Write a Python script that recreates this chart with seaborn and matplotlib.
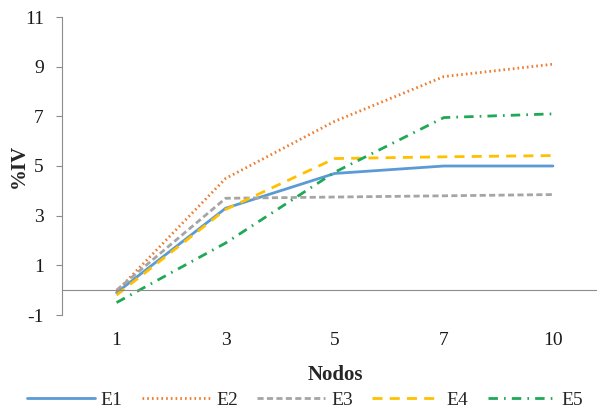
import numpy as np
import pandas as pd
import matplotlib
matplotlib.use("Agg")
import matplotlib.pyplot as plt
import seaborn as sns

# datos
nodos = ["1", "3", "5", "7", "10"]
e1 = [-0.1, 3.3, 4.7, 5.0, 5.0]
e2 = [-0.05, 4.5, 6.8, 8.6, 9.1]
e3 = [0.0, 3.7, 3.75, 3.8, 3.85]
e4 = [-0.2, 3.25, 5.3, 5.37, 5.42]
e5 = [-0.5, 1.9, 4.75, 6.95, 7.1]
series = ["E1", "E2", "E3", "E4", "E5"]

colores = {"E1": "#5b9bd5", "E2": "#ed7d31", "E3": "#a5a5a5",
           "E4": "#ffc000", "E5": "#20a856"}
trazos = {"E1": "", "E2": (0.6, 1.1), "E3": (2.2, 1.2),
          "E4": (3.6, 2.6), "E5": (3.4, 2.2, 0.6, 2.2)}

pos = np.arange(len(nodos))
df = pd.DataFrame({
    "pos": np.tile(pos, 5),
    "valor": e1 + e2 + e3 + e4 + e5,
    "serie": np.repeat(series, len(nodos)),
})

sns.set_style("white")
plt.rcParams["font.family"] = ["Liberation Serif", "DejaVu Serif"]
plt.rcParams["axes.unicode_minus"] = False

fig = plt.figure(figsize=(5.97, 4.12), dpi=100)
ax = fig.add_axes([62 / 597, 1 - 315 / 412, 545.5 / 597, 298 / 412])

sns.lineplot(data=df, x="pos", y="valor", hue="serie", style="serie",
             palette=colores, dashes=trazos, linewidth=2.0, ax=ax,
             legend=False)

ax.set_xlim(-0.5, 4.5)
ax.set_ylim(-1, 11)
ax.set_yticks(np.arange(-1, 12, 2))

gris = "#8c8c8c"
for s in ["top", "right"]:
    ax.spines[s].set_visible(False)
ax.spines["left"].set_color(gris)
ax.spines["bottom"].set_color(gris)
ax.spines["bottom"].set_position(("data", 0))

ax.set_xticks(pos)
ax.set_xticklabels(nodos)
ax.set_xticks(pos[:-1] + 0.5, minor=True)
ax.tick_params(axis="x", which="major", length=0, pad=30, labelsize=14,
               labelcolor="#1a1a1a")
ax.tick_params(axis="x", which="minor", length=4, color=gris, direction="out")
ax.tick_params(axis="y", length=4, color=gris, direction="out", pad=9,
               labelsize=14, labelcolor="#1a1a1a", left=True)

ax.set_xlabel("Nodos", fontsize=15, fontweight="bold")
ax.set_ylabel("%IV", fontsize=15, fontweight="bold")
ax.xaxis.set_label_coords(273 / 545.5, -0.168)
ax.yaxis.set_label_coords(-0.06, 0.5)

handles = [plt.Line2D([], [], color=colores[s], lw=2.0,
                      dashes=trazos[s] if trazos[s] else (None, None))
           for s in series]
for h, s in zip(handles, series):
    if trazos[s] == "":
        h.set_linestyle("-")
fig.legend(handles, series, loc="center", bbox_to_anchor=(305 / 597, 1 - 400 / 412),
           ncol=5, frameon=False, fontsize=14, handlelength=3.5,
           handletextpad=0.3, columnspacing=1.0)

fig.savefig("out.png", dpi=100)
